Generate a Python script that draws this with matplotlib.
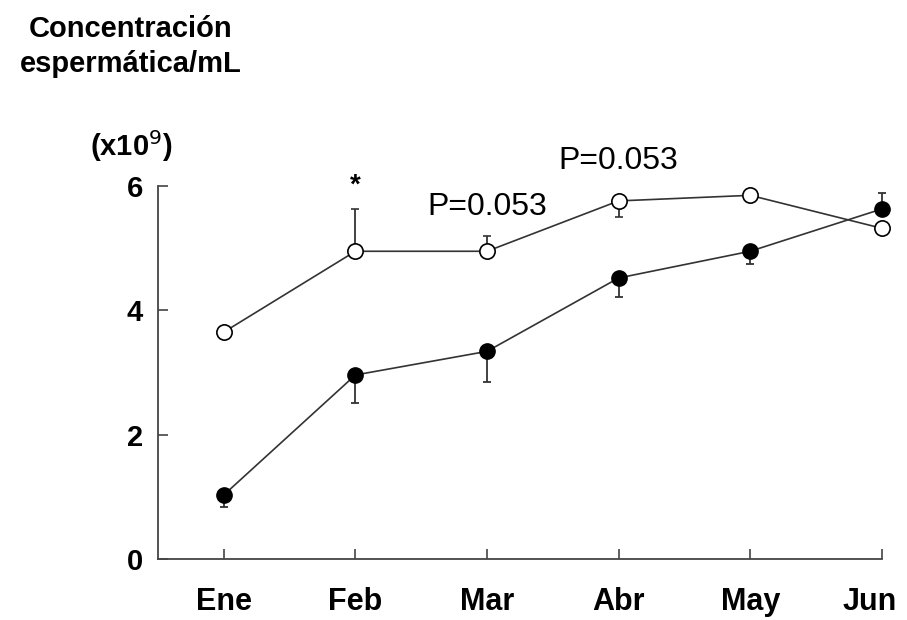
import matplotlib
matplotlib.use("Agg")
import matplotlib.pyplot as plt
from matplotlib.transforms import ScaledTranslation
import numpy as np

plt.rcParams['font.family'] = ['Liberation Sans', 'DejaVu Sans']

months = ["Ene", "Feb", "Mar", "Abr", "May", "Jun"]
open_vals = [3.65, 4.95, 4.95, 5.76, 5.85, 5.32]
open_err_lo = [0, 0, 0, 0.26, 0, 0]
open_err_hi = [0, 0.68, 0.25, 0, 0, 0]
filled_vals = [1.03, 2.96, 3.34, 4.52, 4.95, 5.63]
filled_err_lo = [0.20, 0.45, 0.49, 0.31, 0.21, 0]
filled_err_hi = [0, 0, 0, 0, 0, 0.25]
yticks = [0, 2, 4, 6]

fig = plt.figure(figsize=(9.07, 6.20), dpi=100)
ax = fig.add_axes([0.1742, 0.0984, 0.798, 0.6016])
x = np.arange(len(months))
lc = '#333333'

ax.errorbar(x, filled_vals, yerr=[filled_err_lo, filled_err_hi], fmt='o-', color=lc,
            lw=1.2, ms=11, mfc='black', mec='black', ecolor=lc, elinewidth=1.3,
            capsize=3, capthick=1.3, clip_on=False, zorder=3)
ax.errorbar(x, open_vals, yerr=[open_err_lo, open_err_hi], fmt='o-', color=lc,
            lw=1.2, ms=11, mfc='white', mec='black', mew=1.2, ecolor=lc, elinewidth=1.3,
            capsize=3, capthick=1.3, clip_on=False, zorder=4)

ax.set_xlim(-0.5, 5.0)
ax.set_ylim(0, 6)
ax.set_xticks(x)
ax.set_xticklabels(months, fontsize=22, fontweight='bold')
ax.set_yticks(yticks)
ax.set_yticklabels([str(t) for t in yticks], fontsize=21, fontweight='bold')
ax.tick_params(direction='in', length=7, width=1.2, color='#444444')
ax.tick_params(axis='y', pad=11)
ax.tick_params(axis='x', pad=20)
for s in ['top', 'right']:
    ax.spines[s].set_visible(False)
for s in ['left', 'bottom']:
    ax.spines[s].set_color('#444444')
    ax.spines[s].set_linewidth(1.3)

# shift last tick label slightly left so it stays inside the figure
last = ax.get_xticklabels()[-1]
last.set_transform(last.get_transform() + ScaledTranslation(-0.12, 0, fig.dpi_scale_trans))

ax.text(1, 6.0, "*", ha='center', va='center', fontsize=20, fontweight='bold', clip_on=False)
ax.text(2.0, 5.66, "P=0.053", ha='center', va='center', fontsize=23, clip_on=False)
ax.text(3.0, 6.4, "P=0.053", ha='center', va='center', fontsize=23, clip_on=False)

fig.text(0.1445, 0.925, "Concentración\nespermática/mL", ha='center', va='center',
         multialignment='center', fontsize=21, fontweight='bold', linespacing=1.3)
fig.text(0.1445, 0.764, "(x10$^{9}$)", ha='center', va='center', fontsize=21, fontweight='bold')

fig.savefig("out.png", dpi=100)
